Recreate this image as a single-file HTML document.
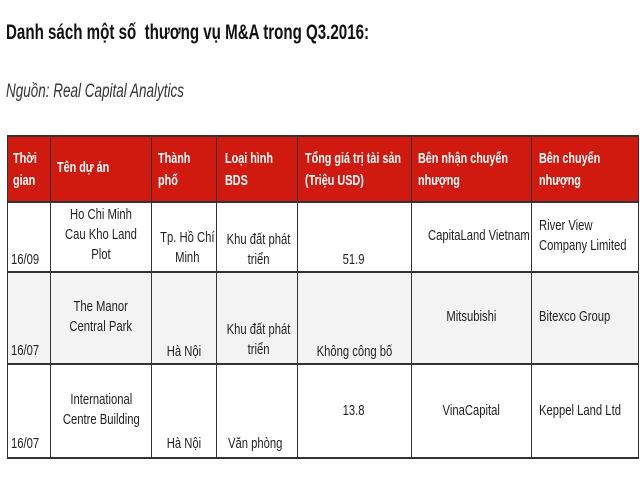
<!DOCTYPE html>
<html><head><meta charset="utf-8"><style>
body{margin:0;width:640px;height:480px;background:#fff;position:relative;overflow:hidden;font-family:"Liberation Sans",sans-serif;color:#222}
.t{position:absolute;white-space:nowrap;font-size:15px;line-height:20px}
.c{text-align:center}
.c span,.l span{display:inline-block;transform:scaleX(.75)}
.c span{transform-origin:center}
.l span{transform-origin:left}
.h{color:#fff;font-weight:bold;font-size:15px;line-height:22px}
.h span{transform:scaleX(.72)}
.line{position:absolute;background:#333}
</style></head><body>
<div class="t l" style="left:6px;top:22px;font-size:21px;line-height:22px;font-weight:bold;color:#111"><span style="transform:scaleX(.72)">Danh sách một số&nbsp; thương vụ M&amp;A trong Q3.2016:</span></div>
<div class="t l" style="left:6px;top:81px;font-size:19px;line-height:22px;font-style:italic;color:#333"><span style="transform:scaleX(.71)">Nguồn: Real Capital Analytics</span></div>

<div style="position:absolute;left:7px;top:136px;width:632px;height:66px;background:#d0190f"></div>
<div style="position:absolute;left:7px;top:272px;width:632px;height:92px;background:#f3f3f3"></div>
<div class="line" style="left:7px;top:135px;width:632px;height:2px"></div>
<div class="line" style="left:7px;top:201px;width:632px;height:2px"></div>
<div class="line" style="left:7px;top:271px;width:632px;height:2px"></div>
<div class="line" style="left:7px;top:363px;width:632px;height:2px"></div>
<div class="line" style="left:7px;top:457px;width:632px;height:2px"></div>
<div class="line" style="left:7px;top:135px;width:1px;height:324px"></div>
<div class="line" style="left:50px;top:135px;width:1px;height:324px"></div>
<div class="line" style="left:151px;top:135px;width:1px;height:324px"></div>
<div class="line" style="left:216px;top:135px;width:1px;height:324px"></div>
<div class="line" style="left:297px;top:135px;width:1px;height:324px"></div>
<div class="line" style="left:411px;top:135px;width:1px;height:324px"></div>
<div class="line" style="left:531px;top:135px;width:1px;height:324px"></div>
<div class="line" style="left:638px;top:135px;width:1px;height:324px"></div>

<div class="t l h" style="left:13px;top:148px"><span>Thời<br>gian</span></div>
<div class="t l h" style="left:57px;top:157px"><span>Tên dự án</span></div>
<div class="t l h" style="left:158px;top:148px"><span>Thành<br>phố</span></div>
<div class="t l h" style="left:225px;top:148px"><span>Loại hình<br>BDS</span></div>
<div class="t l h" style="left:305px;top:148px"><span>Tổng giá trị tài sản<br>(Triệu USD)</span></div>
<div class="t l h" style="left:418px;top:148px"><span>Bên nhận chuyển<br>nhượng</span></div>
<div class="t l h" style="left:539px;top:148px"><span>Bên chuyển<br>nhượng</span></div>

<div class="t l" style="left:11px;top:250px"><span>16/09</span></div>
<div class="t c" style="left:50px;width:101px;top:205px"><span>Ho Chi Minh<br>Cau Kho Land<br>Plot</span></div>
<div class="t c" style="left:151px;width:65px;top:228px"><span>Tp. Hồ Chí<br>Minh</span></div>
<div class="t c" style="left:216px;width:81px;top:230px"><span>Khu đất phát<br>triển</span></div>
<div class="t c" style="left:297px;width:114px;top:250px"><span>51.9</span></div>
<div class="t c" style="left:411px;width:120px;top:226px"><span>CapitaLand Vietnam</span></div>
<div class="t l" style="left:539px;top:216px"><span>River View<br>Company Limited</span></div>

<div class="t l" style="left:11px;top:341px"><span>16/07</span></div>
<div class="t c" style="left:50px;width:101px;top:297px"><span>The Manor<br>Central Park</span></div>
<div class="t c" style="left:151px;width:65px;top:342px"><span>Hà Nội</span></div>
<div class="t c" style="left:216px;width:81px;top:320px"><span>Khu đất phát<br>triển</span></div>
<div class="t c" style="left:297px;width:114px;top:342px"><span>Không công bố</span></div>
<div class="t c" style="left:411px;width:120px;top:307px"><span>Mitsubishi</span></div>
<div class="t l" style="left:539px;top:307px"><span>Bitexco Group</span></div>

<div class="t l" style="left:11px;top:434px"><span>16/07</span></div>
<div class="t c" style="left:50px;width:101px;top:390px"><span>International<br>Centre Building</span></div>
<div class="t c" style="left:151px;width:65px;top:434px"><span>Hà Nội</span></div>
<div class="t l" style="left:228px;top:434px"><span>Văn phòng</span></div>
<div class="t c" style="left:297px;width:114px;top:401px"><span>13.8</span></div>
<div class="t c" style="left:411px;width:120px;top:401px"><span>VinaCapital</span></div>
<div class="t l" style="left:539px;top:401px"><span>Keppel Land Ltd</span></div>
</body></html>
